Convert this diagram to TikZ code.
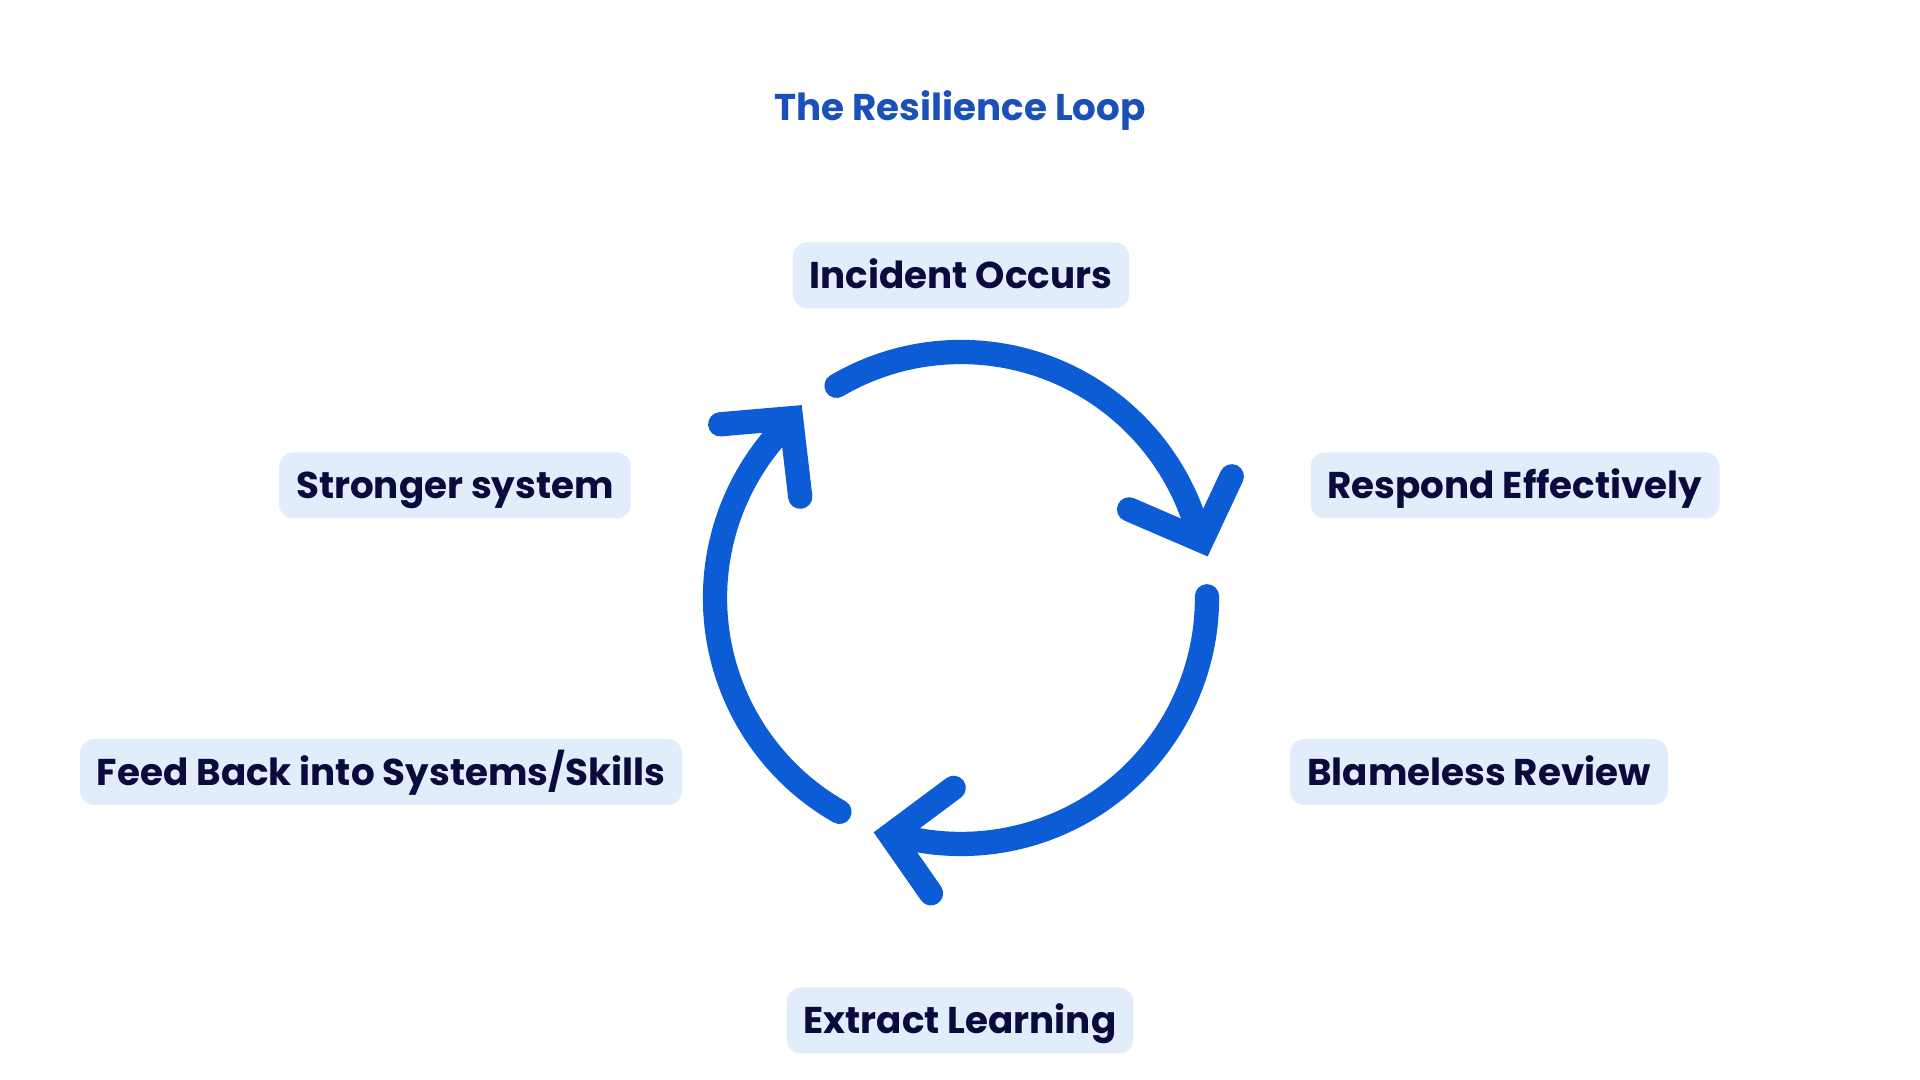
\documentclass[tikz,border=0pt]{standalone}
\usepackage{fontspec}
\setmainfont{Poppins}
\usepackage{tikz}
\usetikzlibrary{calc}

\definecolor{loopblue}{HTML}{0B5CD5}
\definecolor{titleblue}{HTML}{1A50B8}
\definecolor{stageink}{HTML}{0A0A3C}
\definecolor{stagefill}{HTML}{E2EDFC}

\begin{document}
\begin{tikzpicture}[x=0.01cm, y=0.01cm,
  stage/.style={fill=stagefill, text=stageink, rounded corners=4pt,
    inner ysep=0pt, text height=0.465cm, text depth=0.195cm, inner xsep=0.17cm,
    font=\fontsize{10.6}{12}\selectfont\bfseries},
  loopline/.style={draw=loopblue, line width=6.9pt, line cap=round}]
\useasboundingbox (0,0) rectangle (1920,1080);
%% --- title ---
\node[text=titleblue, font=\fontsize{10.6}{13}\selectfont\bfseries] (title) at (960,969) {The Resilience Loop};
%% --- stages ---
\node[stage] (incident) at (961,804.5) {Incident Occurs};
\node[stage] (respond) at (1515,594.5) {Respond Effectively};
\node[stage] (review) at (1479,308) {Blameless Review};
\node[stage] (learning) at (960,59.5) {Extract Learning};
\node[stage] (feedback) at (381,308) {Feed Back into Systems/Skills};
\node[stage] (stronger) at (455,594.5) {Stronger system};
%% --- the loop: three arcs with open heads ---
\coordinate (c) at (961,482);
\foreach \k in {0,1,2} {
  \pgfmathsetmacro{\startang}{120.4-120*\k}
  \pgfmathsetmacro{\tipang}{13.4-120*\k}
  \draw[loopline] ($(c)+(\startang:246)$) arc[start angle=\startang, end angle=\tipang+1.5, radius=246];
  \draw[loopline, line join=miter]
    ($(c)+(\tipang+14.4:190)$) -- ($(c)+(\tipang:247.4)$) -- ($(c)+(\tipang+10.8:296.9)$);
}
\end{tikzpicture}
\end{document}
